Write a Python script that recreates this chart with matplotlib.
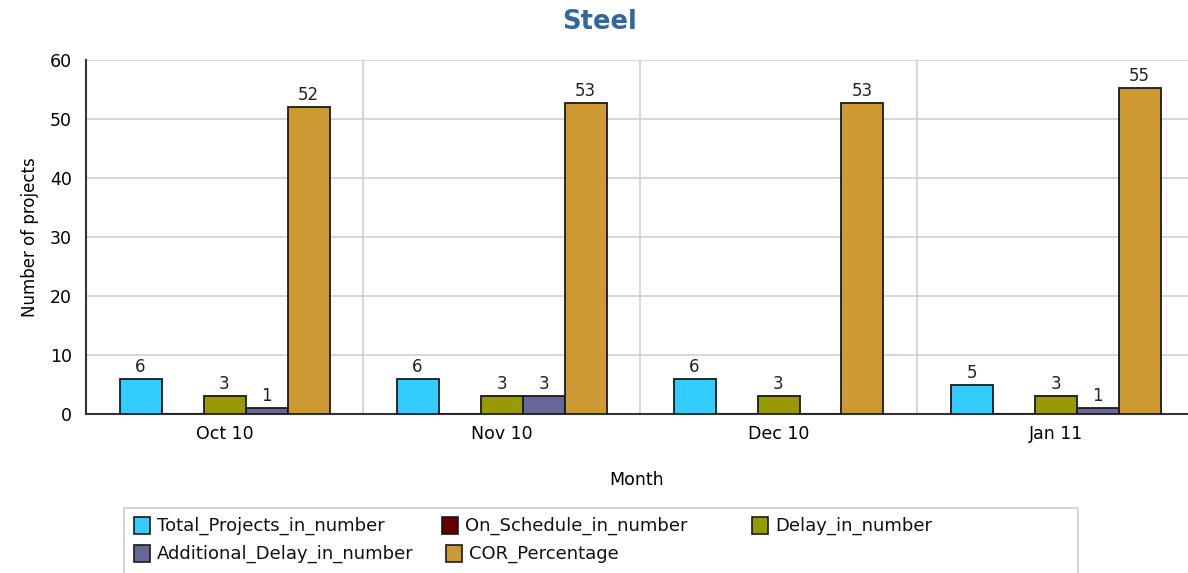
import matplotlib
matplotlib.use("Agg")
import matplotlib.pyplot as plt
from matplotlib.patches import Rectangle
import numpy as np

months = ["Oct 10", "Nov 10", "Dec 10", "Jan 11"]
series_names = ["Total_Projects_in_number", "On_Schedule_in_number", "Delay_in_number",
                "Additional_Delay_in_number", "COR_Percentage"]
total_projects = [6, 6, 6, 5]
on_schedule = [0, 0, 0, 0]
delay = [3, 3, 3, 3]
additional_delay = [1, 3, 0, 1]
cor_percentage = [52.0, 52.7, 52.7, 55.3]
y_ticks = [0, 10, 20, 30, 40, 50, 60]

series_values = [total_projects, on_schedule, delay, additional_delay, cor_percentage]
colors = ["#33CCFF", "#660000", "#999900", "#666699", "#CC9933"]

W, H = 1188, 573
fig = plt.figure(figsize=(W / 100, H / 100), dpi=100)
ax = fig.add_axes([86 / W, 1 - 414 / H, 1 - 86 / W, (414 - 60) / H])

x = np.arange(len(months))
bw = 42 / 277
n = len(series_values)
for i, (vals, col) in enumerate(zip(series_values, colors)):
    pos = x + (i - (n - 1) / 2) * bw
    ax.bar(pos, vals, width=bw, color=col, edgecolor="#1a1a1a", linewidth=1.3, zorder=3)
    for p, v in zip(pos, vals):
        if v > 0:
            ax.text(p, v + 0.5, f"{v:.0f}", ha="center", va="bottom", fontsize=12,
                    color="#222222", zorder=4)

ax.set_xlim(-0.5, -0.5 + 1102 / 277)
ax.set_ylim(0, 60)
ax.set_yticks(y_ticks)
ax.set_xticks(x)
ax.set_xticklabels(months, fontsize=12.5)
ax.tick_params(axis="y", labelsize=12.5, length=0, pad=10)
ax.tick_params(axis="x", length=0, pad=8)
ax.set_axisbelow(True)
ax.grid(axis="y", color="#d0d0d0", linewidth=1.2)
for b in [0.5, 1.5, 2.5]:
    ax.axvline(b, color="#d0d0d0", linewidth=1.2, zorder=0)
for s in ["top", "right"]:
    ax.spines[s].set_visible(False)
ax.spines["left"].set_color("#333333")
ax.spines["left"].set_linewidth(1.5)
ax.spines["bottom"].set_color("#333333")
ax.spines["bottom"].set_linewidth(1.5)

ax.set_ylabel("Number of projects", fontsize=12, labelpad=8)
ax.set_xlabel("Month", fontsize=12.5, labelpad=20)

fig.text(600 / W, 1 - 22 / H, "Steel", ha="center", va="center", fontsize=18.5,
         fontweight="bold", color="#336699")

# legend box
fig.patches.append(Rectangle((124 / W, -0.05), (1078 - 124) / W, 0.05 + (573 - 508) / H,
                             transform=fig.transFigure, facecolor="white",
                             edgecolor="#cccccc", linewidth=1.2))
legend_pos = [(134, 526), (442, 526), (752, 526), (134, 554), (446, 554)]
for name, col, (lx, ly) in zip(series_names, colors, legend_pos):
    fig.patches.append(Rectangle((lx / W, 1 - (ly + 8) / H), 16 / W, 17 / H,
                                 transform=fig.transFigure, facecolor=col,
                                 edgecolor="#1a1a1a", linewidth=1.2))
    fig.text((lx + 23) / W, 1 - ly / H, name, ha="left", va="center", fontsize=13,
             color="#111111")

fig.savefig("out.png", dpi=100)
